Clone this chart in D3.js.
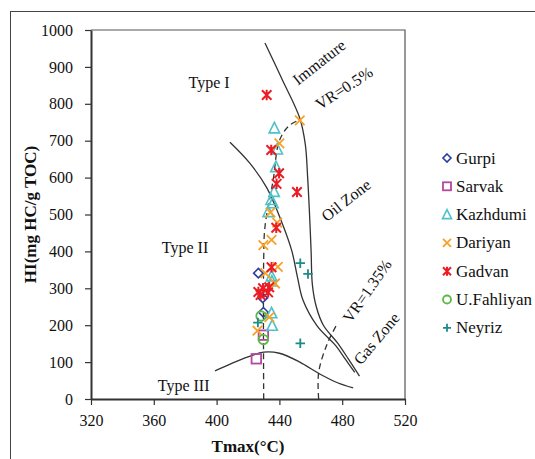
<!DOCTYPE html>
<html>
<head>
<meta charset="utf-8">
<script src="https://cdn.jsdelivr.net/npm/d3@7"></script>
<style>
  html, body { margin: 0; padding: 0; background: #fff; }
  svg { display: block; }
  svg text { font-family: "Liberation Serif", "Times New Roman", serif; fill: #111; }
</style>
</head>
<body>
<svg id="chart" width="535" height="459"></svg>
<script>
// Axis ticks
const xTicks = [320, 360, 400, 440, 480, 520];
const yTicks = [0, 100, 200, 300, 400, 500, 600, 700, 800, 900, 1000];

// Formations: [Tmax (°C), HI (mg HC/g TOC)]
const gurpi = [[426.6, 341], [429.4, 274], [429.8, 235]];
const sarvak = [[429.8, 173], [425.3, 109]];
const kazhdumi = [[436.8, 734], [438.6, 677], [437.8, 629], [436.6, 562], [434.8, 540], [435.8, 531], [432.9, 507],
                  [435, 333], [435.2, 319], [435, 233], [435.4, 199]];
const dariyan = [[453, 755], [440, 693], [434.3, 506], [438.6, 478], [435, 431], [429.8, 417],
                 [439.0, 358], [431, 341], [437.2, 313], [433.6, 222], [426, 185]];
const gadvan = [[431.9, 824], [434.8, 675], [439.8, 612], [438.2, 583], [451.2, 561], [438, 464],
                [435, 357], [426.6, 290], [429.6, 300], [432.8, 289], [428.0, 282], [433.5, 303]];
const fahliyan = [[428.3, 225], [429.8, 161]];
const neyriz = [[453.3, 368], [458.2, 339], [426.3, 207], [453.3, 151]];

// Maturity / kerogen-type boundary curves
const immatureLine = [[430.8, 965], [442, 864], [453, 761], [456.5, 690], [458, 600], [459.2, 500], [460.2, 400],
                      [461, 310], [463.5, 250], [468, 200], [477, 152], [484, 108], [491, 62]];
const typeIILine = [[408.5, 696], [421, 640], [432, 572], [441.7, 477], [448, 400], [451.5, 330], [455, 268],
                    [464, 198], [476, 144], [482, 108], [488, 72]];
const typeIIILine = [[399, 76], [410, 97], [420, 114], [430, 127], [440, 124], [453, 100], [466, 67], [477, 44], [487, 30]];
const vr05 = [[430, 0], [430, 380], [430.8, 466], [436, 593], [440, 700], [446, 740], [453, 757]];
const vr135 = [[465, 0], [465, 72], [470.5, 150], [477, 205]];

const series = [
  { name: "Gurpi", data: gurpi, color: "#2b3f9e", shape: "diamond" },
  { name: "Sarvak", data: sarvak, color: "#b2489f", shape: "square" },
  { name: "Kazhdumi", data: kazhdumi, color: "#4fc1c9", shape: "triangle" },
  { name: "Dariyan", data: dariyan, color: "#f7a128", shape: "x" },
  { name: "Gadvan", data: gadvan, color: "#ec1c24", shape: "asterisk" },
  { name: "U.Fahliyan", data: fahliyan, color: "#5cb947", shape: "circle" },
  { name: "Neyriz", data: neyriz, color: "#1d8a86", shape: "plus" }
];

const svg = d3.select("#chart");
const margin = { left: 91, right: 130, top: 30, bottom: 60 };
const W = 535, H = 459;
const serif = "'Liberation Serif', 'Times New Roman', serif";

const x = d3.scaleLinear().domain([320, 520]).range([margin.left, W - margin.right]);
const y = d3.scaleLinear().domain([0, 1000]).range([H - margin.bottom, margin.top]);

// Outer figure frame
svg.append("rect").attr("x", 10.5).attr("y", 11.5).attr("width", 600).attr("height", 600)
  .attr("fill", "none").attr("stroke", "#444").attr("stroke-width", 1);

// Plot frame (top and right)
svg.append("path")
  .attr("d", `M${x(320)},${y(1000)}H${x(520)}V${y(0)}`)
  .attr("fill", "none").attr("stroke", "#555").attr("stroke-width", 1.2);

const line = d3.line().x(d => x(d[0])).y(d => y(d[1])).curve(d3.curveCatmullRom.alpha(0.5));

// Boundary curves
[immatureLine, typeIILine, typeIIILine].forEach(c => {
  svg.append("path").attr("d", line(c)).attr("fill", "none").attr("stroke", "#333").attr("stroke-width", 1.3);
});
[vr05, vr135].forEach(c => {
  svg.append("path").attr("d", line(c)).attr("fill", "none").attr("stroke", "#333")
    .attr("stroke-width", 1.3).attr("stroke-dasharray", "6,4");
});

// Zone labels (centred on the given Tmax/HI point)
const labels = [
  { t: "Type I", at: [395.2, 859], rot: 0 },
  { t: "Type II", at: [379.9, 412], rot: 0 },
  { t: "Type III", at: [379, 38], rot: 0 },
  { t: "Immature", at: [465.2, 913], rot: -38 },
  { t: "VR=0.5%", at: [481.1, 843], rot: -33 },
  { t: "Oil Zone", at: [482.4, 539], rot: -38 },
  { t: "VR=1.35%", at: [495.8, 293], rot: -55 },
  { t: "Gas Zone", at: [501.8, 164], rot: -50 }
];
labels.forEach(l => {
  const px = x(l.at[0]), py = y(l.at[1]);
  svg.append("text").attr("transform", `translate(${px},${py}) rotate(${l.rot})`)
    .attr("text-anchor", "middle").attr("dy", "0.35em")
    .style("font-family", serif).style("font-size", "16px").text(l.t);
});

// Axes
const xAxis = svg.append("g").attr("transform", `translate(0,${y(0)})`)
  .call(d3.axisBottom(x).tickValues(xTicks).tickFormat(d3.format("d")).tickSize(6).tickSizeOuter(0));
const yAxis = svg.append("g").attr("transform", `translate(${x(320)},0)`)
  .call(d3.axisLeft(y).tickValues(yTicks).tickFormat(d3.format("d")).tickSize(6).tickSizeOuter(0));
[xAxis, yAxis].forEach(a => {
  a.select(".domain").attr("stroke", "#333").attr("stroke-width", 2);
  a.selectAll(".tick line").attr("stroke", "#333").attr("stroke-width", 1.2);
  a.selectAll(".tick text").style("font-family", serif).style("font-size", "16px").style("fill", "#111");
});
xAxis.selectAll(".tick text").attr("dy", "1.15em");
yAxis.selectAll(".tick text").attr("x", -18);

svg.append("text").attr("x", (x(320) + x(520)) / 2).attr("y", 452).attr("text-anchor", "middle")
  .style("font-family", serif).style("font-size", "17px").style("font-weight", "bold").text("Tmax(°C)");
svg.append("text").attr("transform", `translate(36,${(y(0) + y(1000)) / 2}) rotate(-90)`)
  .attr("text-anchor", "middle")
  .style("font-family", serif).style("font-size", "17px").style("font-weight", "bold").text("HI(mg HC/g TOC)");

// Marker drawing
function drawMarker(g, shape, color, s) {
  const h = s / 2;
  if (shape === "diamond") {
    g.append("path").attr("d", `M0,${-h}L${h},0L0,${h}L${-h},0Z`).attr("fill", "none").attr("stroke", color).attr("stroke-width", 1.6);
  } else if (shape === "square") {
    g.append("rect").attr("x", -h).attr("y", -h).attr("width", s).attr("height", s).attr("fill", "none").attr("stroke", color).attr("stroke-width", 1.8);
  } else if (shape === "triangle") {
    g.append("path").attr("d", `M0,${-h - 1}L${h + 0.5},${h}L${-h - 0.5},${h}Z`).attr("fill", "none").attr("stroke", color).attr("stroke-width", 1.6);
  } else if (shape === "x") {
    g.append("path").attr("d", `M${-h},${-h}L${h},${h}M${-h},${h}L${h},${-h}`).attr("stroke", color).attr("stroke-width", 1.8);
  } else if (shape === "asterisk") {
    g.append("path").attr("d", `M${-h},${-h}L${h},${h}M${-h},${h}L${h},${-h}M0,${-h - 0.5}V${h + 0.5}`).attr("stroke", color).attr("stroke-width", 2);
  } else if (shape === "circle") {
    g.append("circle").attr("r", h).attr("fill", "none").attr("stroke", color).attr("stroke-width", 1.8);
  } else if (shape === "plus") {
    g.append("path").attr("d", `M${-h},0H${h}M0,${-h}V${h}`).attr("stroke", color).attr("stroke-width", 1.8);
  }
}

const pts = svg.append("g");
series.forEach(sr => {
  sr.data.forEach(d => {
    const g = pts.append("g").attr("transform", `translate(${x(d[0])},${y(d[1])})`);
    drawMarker(g, sr.shape, sr.color, 9.5);
  });
});

// Legend
const legend = svg.append("g");
series.forEach((sr, i) => {
  const ly = 158 + i * 28.3;
  const g = legend.append("g").attr("transform", `translate(447,${ly})`);
  drawMarker(g, sr.shape, sr.color, 8);
  legend.append("text").attr("x", 456).attr("y", ly + 5.5)
    .style("font-family", serif).style("font-size", "17px").text(sr.name);
});
</script>
</body>
</html>
